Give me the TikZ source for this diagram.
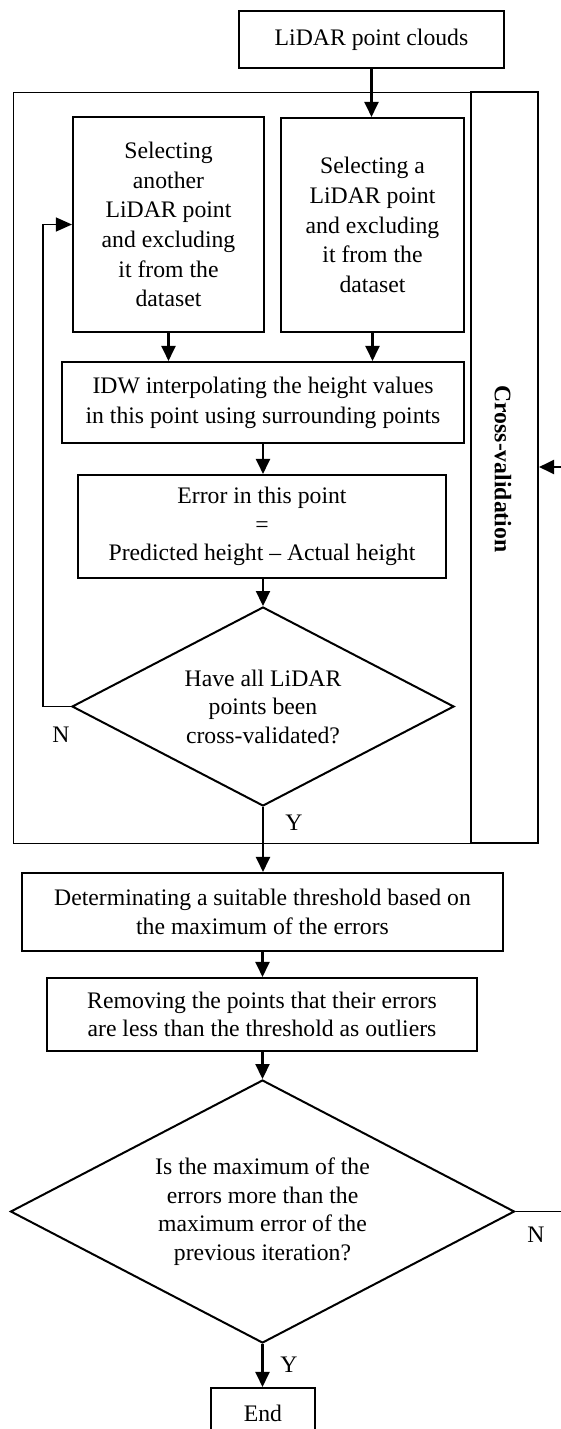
\documentclass[tikz,border=0pt]{standalone}
\usepackage{fontspec}
\setmainfont{Liberation Serif}
\usetikzlibrary{shapes.geometric,arrows.meta}
\begin{document}
\begin{tikzpicture}[x=1pt,y=-1pt,
  base/.style={font=\fontsize{23.7}{28.5}\selectfont, align=center, inner sep=0pt},
  box/.style={base, draw, line width=2.1pt, rectangle},
  thinbox/.style={draw, line width=0.8pt, rectangle, inner sep=0pt},
  dec/.style={base, draw, line width=2pt, diamond, aspect=1.92},
  arr/.style={line width=2.2pt, -{Triangle[length=15pt,width=14pt]}},
  thinarr/.style={line width=1.2pt, -{Triangle[length=16pt,width=14pt]}},
  lbl/.style={font=\fontsize{23.7}{28.5}\selectfont, inner sep=0pt}]
\useasboundingbox (0,0) rectangle (561,1429);
\clip (0,0) rectangle (561,1429);

\node[box, minimum width=265, minimum height=57] (lidar) at (371.5,39.5) {LiDAR point clouds};
\node[thinbox, minimum width=458, minimum height=751] (frame) at (242,467.5) {};
\node[box, minimum width=67, minimum height=751] (cv) at (504.5,467.5) {};
\node[base, font={\fontsize{23.7}{28.5}\selectfont\bfseries}, rotate=-90] (cvtext) at (503,469) {Cross-validation};

\node[box, font=\fontsize{23.7}{29.6}\selectfont, minimum width=191, minimum height=215] (sel2) at (168.5,224.5) {Selecting\\another\\LiDAR point\\and excluding\\it from the\\dataset};
\node[box, font=\fontsize{23.7}{29.6}\selectfont, minimum width=183, minimum height=214] (sel1) at (372.5,225) {Selecting a\\LiDAR point\\and excluding\\it from the\\dataset};
\node[box, font=\fontsize{23.7}{30}\selectfont, minimum width=402, minimum height=81] (idw) at (263,402.5) {IDW interpolating the height values\\in this point using surrounding points};
\node[box, minimum width=368, minimum height=103] (err) at (262,526.5) {Error in this point\\=\\Predicted height – Actual height};
\node[dec, minimum width=382, minimum height=199] (dia1) at (263,706.5) {Have all LiDAR\\points been\\cross-validated?};
\node[box, minimum width=481, minimum height=78] (det) at (262.5,912) {Determinating a suitable threshold based on\\the maximum of the errors};
\node[box, minimum width=430, minimum height=73] (rem) at (262,1014.5) {Removing the points that their errors\\are less than the threshold as outliers};
\node[dec, minimum width=504, minimum height=263] (dia2) at (262.5,1211.5) {Is the maximum of the\\errors more than the\\maximum error of the\\previous iteration?};
\node[box, minimum width=104, minimum height=50] (end) at (263,1413) {End};

\node[lbl] (n1) at (61,735) {N};
\node[lbl] (y1) at (294,823) {Y};
\node[lbl] (n2) at (536,1235) {N};
\node[lbl] (y2) at (289,1365) {Y};

\draw[arr] (lidar.south) -- (lidar.south |- sel1.north);
\draw[arr] (sel2.south) -- (sel2.south |- idw.north);
\draw[arr] (sel1.south) -- (sel1.south |- idw.north);
\draw[arr] (idw.south) -- (idw.south |- err.north);
\draw[arr] (dia1.north |- err.south) -- (dia1.north);
\draw[arr] (dia1.south) -- (dia1.south |- det.north);
\draw[arr] (det.south) -- (det.south |- rem.north);
\draw[arr] (dia2.north |- rem.south) -- (dia2.north);
\draw[arr] (dia2.south) -- (dia2.south |- end.north);
\draw[thinarr] (dia1.west) -- ++(-28,0) |- (sel2.west);
\coordinate (cvin) at (565,467);
\draw[arr] (cvin) -- (cv.east |- cvin);
\coordinate (nout) at (565,1211.5);
\draw[line width=1.2pt] (dia2.east) -- (nout);
\end{tikzpicture}
\end{document}
